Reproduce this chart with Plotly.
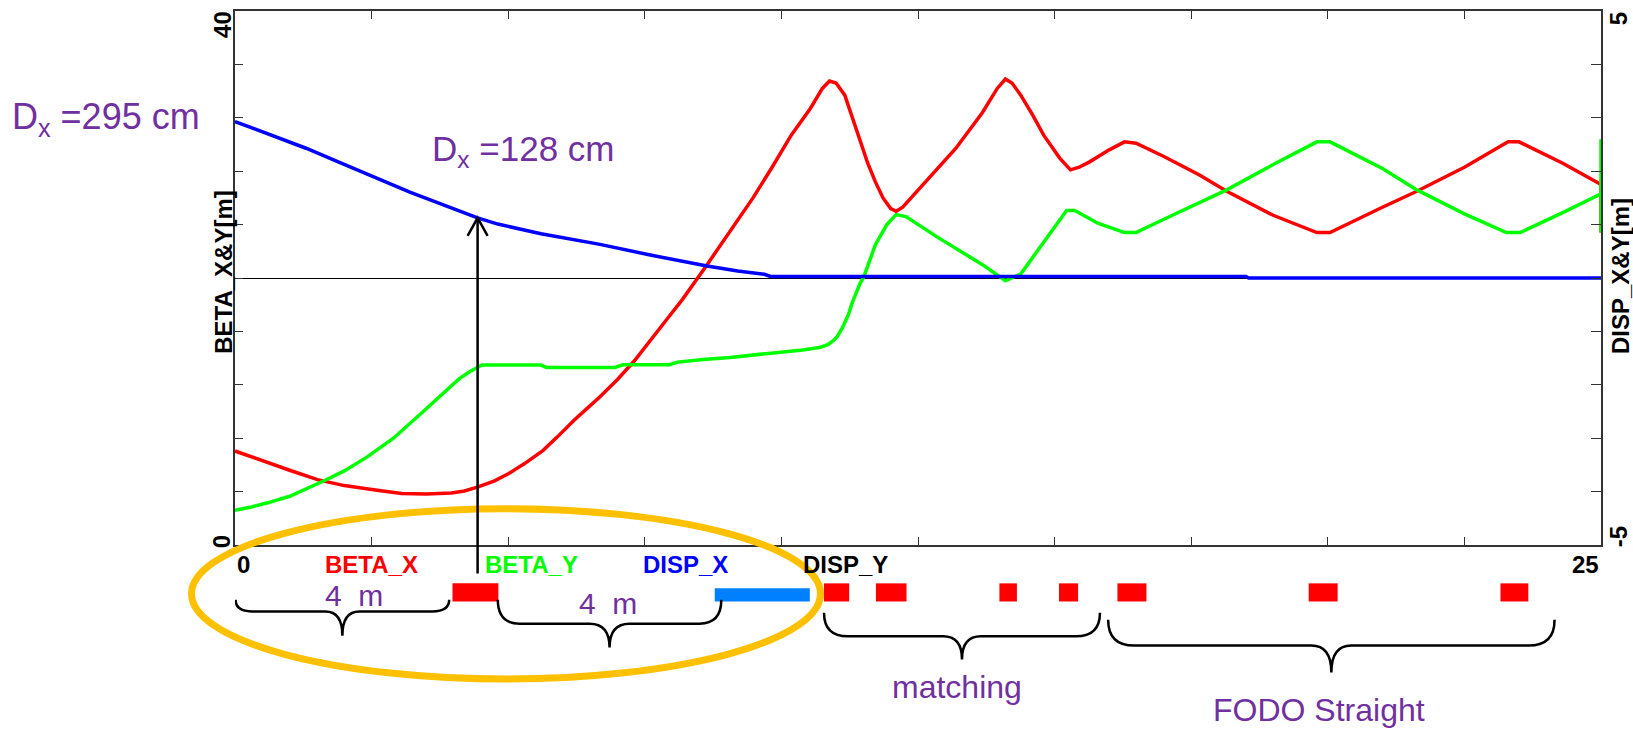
import numpy as np
import plotly.graph_objects as go

# ---------------- data ----------------
S_BETA_X = [0.0, 0.3, 0.6, 1.0, 1.51, 2.0, 2.6, 3.05, 3.5, 3.96, 4.2, 4.45, 4.75, 5.01, 5.3, 5.64, 5.9, 6.2,
            6.45, 6.68, 7.0, 7.31, 7.94, 8.19, 8.64, 9.06, 9.48, 9.83, 10.18, 10.53, 10.75, 10.88, 11.0, 11.16,
            11.3, 11.44, 11.58, 11.72, 11.86, 12.0, 12.1, 12.22, 12.49, 12.84, 13.19, 13.68, 13.95, 14.1, 14.22,
            14.38, 14.6, 14.8, 15.09, 15.29, 15.45, 15.64, 16.0, 16.28, 16.49, 17.0, 17.66, 18.15, 19.0, 19.8,
            20.04, 21.0, 21.63, 22.5, 23.3, 23.5, 24.3, 25.0, 25.0]
BETA_X = [7.04, 6.6, 6.2, 5.6, 4.9, 4.45, 4.1, 3.86, 3.82, 3.9, 4.05, 4.35, 4.8, 5.35, 6.1, 7.09, 8.1, 9.33,
          10.25, 11.1, 12.4, 13.8, 17.1, 18.4, 21.0, 23.5, 26.0, 28.3, 30.7, 32.7, 34.2, 34.75, 34.6, 33.7,
          32.0, 30.2, 28.6, 27.2, 26.0, 25.2, 25.0, 25.3, 26.5, 28.1, 29.7, 32.4, 34.2, 34.9, 34.6,
          33.7, 32.2, 30.7, 29.0, 28.1, 28.3, 28.7, 29.6, 30.2, 30.1, 29.1, 27.7, 26.5, 24.7, 23.4,
          23.4, 25.3, 26.5, 28.3, 30.2, 30.2, 28.6, 27.0, 23.4]

S_BETA_Y = [0.0, 0.3, 0.6, 1.0, 1.65, 2.0, 2.42, 2.9, 3.4, 3.8, 4.1, 4.3, 4.52, 5.6, 5.7, 6.95, 7.1, 7.95, 8.1,
            8.57, 9.06, 9.76, 10.39, 10.7, 10.85, 10.95, 11.02, 11.12, 11.23, 11.3, 11.44, 11.51, 11.72, 11.93,
            12.1, 12.28, 12.84, 13.68, 14.1, 14.38, 14.73, 15.09, 15.22, 15.37, 15.79, 16.28, 16.49, 17.0,
            17.66, 18.15, 19.0, 19.8, 20.04, 21.0, 21.63, 22.5, 23.27, 23.52, 24.3, 25.0, 25.0, 25.0]
BETA_Y = [2.61, 2.85, 3.16, 3.65, 4.85, 5.55, 6.6, 8.0, 9.83, 11.35, 12.44, 13.0, 13.48, 13.48, 13.3, 13.3, 13.5,
          13.5, 13.7, 13.9, 14.05, 14.35, 14.6, 14.8, 15.0, 15.3, 15.6, 16.3, 17.3, 18.2, 19.6, 20.1, 22.5, 24.0,
          24.75, 24.6, 23.1, 21.0, 19.8, 20.3, 22.3, 24.4, 25.05, 25.05, 24.1, 23.4, 23.4, 24.4,
          25.7, 26.6, 28.5, 30.2, 30.2, 28.2, 26.6, 24.8, 23.4, 23.4, 24.9, 26.3, 30.4, 23.4]

S_DISP_X = [0.0, 0.65, 1.3, 1.9, 2.51, 3.2, 3.97, 4.44, 4.81, 5.6, 6.68, 7.6, 8.64, 9.2, 9.69, 9.8, 18.5, 18.55, 25.0]
DISP_X = [2.93, 2.68, 2.43, 2.17, 1.90, 1.61, 1.31, 1.125, 1.01, 0.83, 0.63, 0.43, 0.224, 0.13, 0.07, 0.03, 0.03,
          0.0, 0.0]

# lattice elements (metres)
QUAD_START = [3.98, 10.78, 11.73, 13.99, 15.08, 16.15, 19.65, 23.16]
QUAD_END = [4.82, 11.24, 12.29, 14.31, 15.43, 16.68, 20.18, 23.67]
BEND_START = [8.78]
BEND_END = [10.52]

# lattice sections (braces)
SECTION_START = [0.01, 4.81, 10.78, 15.98]
SECTION_END = [3.92, 8.90, 15.83, 24.15]
SECTION_LABELS = ["4\u00a0\u00a0m", "4\u00a0\u00a0m", "matching", "FODO Straight"]

LEGEND_NAMES = ["BETA_X", "BETA_Y", "DISP_X", "DISP_Y"]
LEGEND_COLORS = ["#FF0000", "#00FF00", "#0000FF", "#000000"]

X_RANGE = [0, 25]
BETA_RANGE = [0, 40]
DISP_RANGE = [-5, 5]
ARROW_S = 4.44
DX_START_LABEL = "D<sub>x</sub> =295 cm"
DX_ARROW_LABEL = "D<sub>x</sub> =128 cm"

# ---------------- layout geometry (pixels) ----------------
W, H = 1633, 730
L, R, T, B = 235, 1601, 9, 545
PXM = (R - L) / (X_RANGE[1] - X_RANGE[0])  # pixels per metre


def px(X):
    return (X - L) / (R - L)


def py(Y):
    return (B - Y) / (B - T)


FONT = "Liberation Sans, Arial, Helvetica, sans-serif"
PURPLE = "#7030A0"
AXC = "#333333"
BOLD_SIZE = 24
LW = 3.5

fig = go.Figure()
fig.add_trace(go.Scatter(x=S_BETA_X, y=BETA_X, mode="lines", name="BETA_X",
                         line=dict(color="#FF0000", width=LW), yaxis="y"))
fig.add_trace(go.Scatter(x=S_BETA_Y, y=BETA_Y, mode="lines", name="BETA_Y",
                         line=dict(color="#00FF00", width=LW), yaxis="y"))
fig.add_trace(go.Scatter(x=S_DISP_X, y=DISP_X, mode="lines", name="DISP_X",
                         line=dict(color="#0000FF", width=LW), yaxis="y2"))

shapes = []
# lattice magnets
for s0, s1 in zip(QUAD_START, QUAD_END):
    shapes.append(dict(type="rect", xref="x", yref="paper", x0=s0, x1=s1,
                       y0=py(601.7), y1=py(583.5), fillcolor="#FF0000", line=dict(width=0), layer="above"))
for s0, s1 in zip(BEND_START, BEND_END):
    shapes.append(dict(type="rect", xref="x", yref="paper", x0=s0, x1=s1,
                       y0=py(601.7), y1=py(588.3), fillcolor="#0080FF", line=dict(width=0), layer="above"))

# braces: (end y, line y, tip y, end radius px, mid radius px)
BRACE_STYLE = [(600, 611.7, 636, 17, 17), (600, 624, 648, 22, 20), (613, 636.7, 660, 24, 19),
               (620, 646, 673, 26, 20)]
for s0, s1, (ye, yl, yt, re, rm) in zip(SECTION_START, SECTION_END, BRACE_STYLE):
    sc = (s0 + s1) / 2
    re_m, rm_m = re / PXM, rm / PXM
    Ye, Yl, Yt = py(ye), py(yl), py(yt)
    path = (f"M {s0},{Ye} Q {s0},{Yl} {s0 + re_m},{Yl} L {sc - rm_m},{Yl} "
            f"Q {sc},{Yl} {sc},{Yt} Q {sc},{Yl} {sc + rm_m},{Yl} L {s1 - re_m},{Yl} "
            f"Q {s1},{Yl} {s1},{Ye}")
    shapes.append(dict(type="path", xref="x", yref="paper", path=path,
                       line=dict(color="black", width=2.5), layer="above"))

# highlight ellipse
shapes.append(dict(type="circle", xref="paper", yref="paper", x0=px(191.5), x1=px(820.5),
                   y0=py(679.5), y1=py(508.5), line=dict(color="#FFC000", width=7), layer="above"))

# arrow head
tip_d = float(np.interp(ARROW_S, S_DISP_X, DISP_X))
shapes.append(dict(type="path", xref="x", yref="y2", xsizemode="pixel", ysizemode="pixel",
                   xanchor=ARROW_S, yanchor=tip_d, path="M -10,-18 L 0,0 L 10,-18",
                   line=dict(color="black", width=2.5), layer="above"))

ann = []
bold = dict(family=FONT, size=BOLD_SIZE, color="black")
# y-axis end labels (rotated)
for text, X, Y in [("40", 222.5, 22.5), ("0", 221.5, 541.7), ("5", 1618.5, 16.7), ("-5", 1618.5, 536.7)]:
    ann.append(dict(text=f"<b>{text}</b>", xref="paper", yref="paper", x=px(X), y=py(Y),
                    xanchor="center", yanchor="middle", textangle=-90, showarrow=False, font=bold))
# axis titles
ann.append(dict(text="<b>BETA_X&Y[m]</b>", xref="paper", yref="paper", x=px(222.8), y=py(271),
                xanchor="center", yanchor="middle", textangle=-90, showarrow=False, font=bold))
ann.append(dict(text="<b>DISP_X&Y[m]</b>", xref="paper", yref="paper", x=px(1620), y=py(275),
                xanchor="center", yanchor="middle", textangle=-90, showarrow=False, font=bold))
# x end labels
ann.append(dict(text="<b>0</b>", xref="x", yref="paper", x=X_RANGE[0], y=py(565), xanchor="left",
                yanchor="middle", showarrow=False, font=bold))
ann.append(dict(text="<b>25</b>", xref="x", yref="paper", x=X_RANGE[1], y=py(565), xanchor="right",
                yanchor="middle", showarrow=False, font=bold))
# legend names
for name, col, X in zip(LEGEND_NAMES, LEGEND_COLORS, [323, 482.6, 641, 801]):
    ann.append(dict(text=f"<b>{name}</b>", xref="paper", yref="paper", x=px(X), y=py(565), xanchor="left",
                    yanchor="middle", showarrow=False, font=dict(family=FONT, size=BOLD_SIZE, color=col)))
# purple notes
ann.append(dict(text=DX_START_LABEL, xref="paper", yref="paper", x=px(10), y=py(117), xanchor="left",
                yanchor="middle", showarrow=False, font=dict(family=FONT, size=36, color=PURPLE)))
ann.append(dict(text=DX_ARROW_LABEL, xref="paper", yref="paper", x=px(430), y=py(149.5), xanchor="left",
                yanchor="middle", showarrow=False, font=dict(family=FONT, size=35, color=PURPLE)))
for text, X, Y, fs in zip(SECTION_LABELS, [354, 608, 956.7, 1319.4], [596, 603.7, 688, 711],
                          [30, 30, 32, 32]):
    ann.append(dict(text=text, xref="paper", yref="paper", x=px(X), y=py(Y), xanchor="center",
                    yanchor="middle", showarrow=False, font=dict(family=FONT, size=fs, color=PURPLE)))
# arrow stem
ann.append(dict(text=" ", x=ARROW_S, y=tip_d, xref="x", yref="y2", ax=0, ay=364, showarrow=True,
                arrowhead=0, arrowwidth=2.5, arrowcolor="black", standoff=0, startstandoff=0))

fig.update_layout(
    width=W, height=H, margin=dict(l=L, r=W - R, t=T, b=H - B, pad=0),
    paper_bgcolor="white", plot_bgcolor="white", showlegend=False,
    font=dict(family=FONT),
    xaxis=dict(range=X_RANGE, tick0=0, dtick=2.5, ticks="inside", ticklen=8, tickwidth=1.2, tickcolor=AXC,
               showticklabels=False, showline=True, linecolor=AXC, linewidth=1.5, mirror="ticks",
               showgrid=False, zeroline=False),
    yaxis=dict(range=BETA_RANGE, tick0=0, dtick=4, ticks="inside", ticklen=8, tickwidth=1.2, tickcolor=AXC,
               showticklabels=False, showline=True, linecolor=AXC, linewidth=1.5,
               showgrid=False, zeroline=False),
    yaxis2=dict(range=DISP_RANGE, overlaying="y", side="right", tick0=0, dtick=1, ticks="inside", ticklen=10,
                tickwidth=1.2, tickcolor=AXC, showticklabels=False, showline=True, linecolor=AXC, linewidth=1.5,
                showgrid=False, zeroline=True, zerolinecolor="#000000", zerolinewidth=1),
    shapes=shapes, annotations=ann,
)

fig.write_html("out.html", config={"displayModeBar": False},
               post_script="document.body.style.margin='0';document.body.style.overflow='hidden';")
